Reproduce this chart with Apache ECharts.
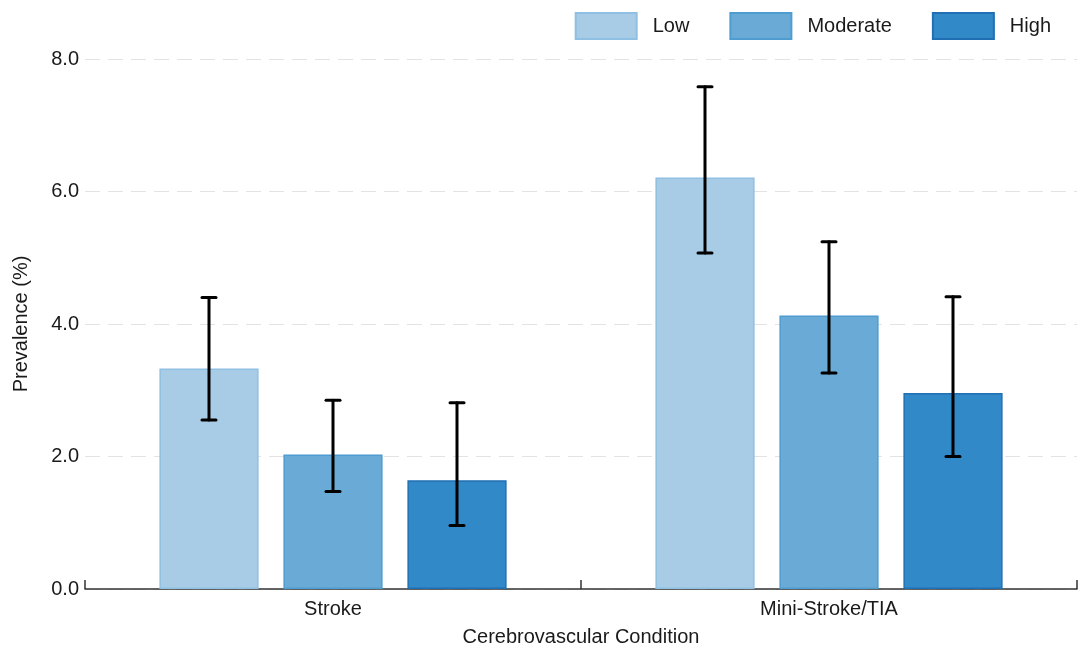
<!DOCTYPE html>
<html>
<head>
<meta charset="utf-8">
<script src="https://cdn.jsdelivr.net/npm/echarts@6/dist/echarts.min.js"></script>
<style>html,body{margin:0;padding:0;background:#fff}#c{width:1078px;height:652px}</style>
</head>
<body>
<div id="c"></div>
<script>
var categories = ['Stroke', 'Mini-Stroke/TIA'];
var seriesNames = ['Low', 'Moderate', 'High'];
var lowValues = [3.33, 6.21];
var moderateValues = [2.03, 4.13];
var highValues = [1.64, 2.96];
var lowCiLower = [2.55, 5.07];
var lowCiUpper = [4.40, 7.58];
var moderateCiLower = [1.47, 3.26];
var moderateCiUpper = [2.85, 5.24];
var highCiLower = [0.96, 2.00];
var highCiUpper = [2.81, 4.41];
var yTicks = [0, 2, 4, 6, 8];

var values = [lowValues, moderateValues, highValues];
var ciLower = [lowCiLower, moderateCiLower, highCiLower];
var ciUpper = [lowCiUpper, moderateCiUpper, highCiUpper];
var fills = ['#a8cce6', '#6aaad6', '#3289c7'];
var borders = ['#8fbfe2', '#4f9cd0', '#1f6fb4'];
var font = 'Liberation Sans, Arial, sans-serif';

var chart = echarts.init(document.getElementById('c'), null, {renderer: 'canvas'});
var series = [];
seriesNames.forEach(function (name, i) {
  series.push({
    name: name,
    type: 'bar',
    data: values[i],
    barWidth: '20%',
    barGap: '25%',
    itemStyle: {color: fills[i], borderColor: borders[i], borderWidth: 1.5}
  });
});
seriesNames.forEach(function (name, i) {
  var data = categories.map(function (c, j) { return [j, ciLower[i][j], ciUpper[i][j]]; });
  series.push({
    type: 'custom',
    name: name + ' CI',
    z: 10,
    silent: true,
    data: data,
    renderItem: function (params, api) {
      var idx = api.value(0);
      var band = api.size([1, 0])[0];
      var bw = band * 0.2;
      var off = (i - 1) * bw * 1.25;
      var lo = api.coord([idx, api.value(1)]);
      var hi = api.coord([idx, api.value(2)]);
      var x = lo[0] + off;
      var cap = 7;
      var st = {stroke: '#000', lineWidth: 3, lineCap: 'round'};
      return {
        type: 'group',
        children: [
          {type: 'line', shape: {x1: x, y1: lo[1], x2: x, y2: hi[1]}, style: st},
          {type: 'line', shape: {x1: x - cap, y1: lo[1], x2: x + cap, y2: lo[1]}, style: st},
          {type: 'line', shape: {x1: x - cap, y1: hi[1], x2: x + cap, y2: hi[1]}, style: st}
        ]
      };
    }
  });
});

chart.setOption({
  backgroundColor: '#fff',
  animation: false,
  textStyle: {fontFamily: font},
  legend: {
    data: seriesNames.map(function (n) { return {name: n, icon: 'rect'}; }),
    top: 7,
    right: 22,
    itemWidth: 61,
    itemHeight: 26,
    itemGap: 40,
    textStyle: {fontSize: 20, color: '#1a1a1a', fontFamily: font, padding: [0, 0, 0, 11]}
  },
  grid: {left: 85, right: 1, top: 59, bottom: 60},
  xAxis: {
    type: 'category',
    data: categories,
    name: 'Cerebrovascular Condition',
    nameLocation: 'middle',
    nameGap: 38,
    nameTextStyle: {fontSize: 20, color: '#1a1a1a', fontFamily: font},
    axisLine: {lineStyle: {color: '#333', width: 1.5}},
    axisTick: {show: true, inside: true, length: 9, lineStyle: {color: '#333', width: 1.5}},
    axisLabel: {fontSize: 20, color: '#1a1a1a', margin: 10, fontFamily: font},
    splitLine: {show: false}
  },
  yAxis: {
    type: 'value',
    min: yTicks[0],
    max: yTicks[yTicks.length - 1],
    interval: 2,
    name: 'Prevalence (%)',
    nameLocation: 'middle',
    nameGap: 54,
    nameTextStyle: {fontSize: 20, color: '#1a1a1a', fontFamily: font},
    axisLine: {show: false},
    axisTick: {show: false},
    axisLabel: {fontSize: 20, color: '#1a1a1a', margin: 6, fontFamily: font,
      formatter: function (v) { return v.toFixed(1); }},
    splitLine: {show: true, lineStyle: {color: '#e3e3e3', type: [15, 8], width: 1}}
  },
  series: series
});
</script>
</body>
</html>
